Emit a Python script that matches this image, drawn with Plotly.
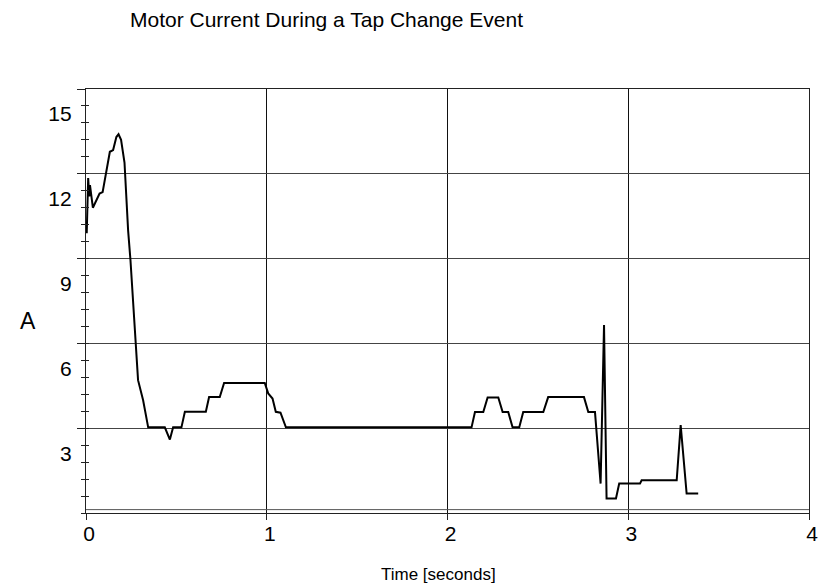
import plotly.graph_objects as go

# ---- data ----
time_s = [0.004, 0.012, 0.018, 0.022, 0.038, 0.060, 0.075, 0.092, 0.112, 0.132,
          0.150, 0.168, 0.180, 0.194, 0.213, 0.233, 0.246, 0.262, 0.276, 0.288,
          0.316, 0.344, 0.436, 0.464, 0.482, 0.528, 0.547, 0.663, 0.681, 0.740,
          0.764, 0.989, 1.008, 1.032, 1.050, 1.076, 1.106, 2.133, 2.152, 2.198,
          2.222, 2.281, 2.305, 2.336, 2.360, 2.397, 2.419, 2.530, 2.557, 2.755,
          2.779, 2.816, 2.847, 2.866, 2.880, 2.932, 2.950, 3.065, 3.074, 3.268,
          3.290, 3.323, 3.387]
current_a = [9.9, 11.85, 11.2, 11.6, 10.8, 11.1, 11.3, 11.35, 12.0, 12.78,
             12.84, 13.3, 13.4, 13.2, 12.4, 10.0, 8.95, 7.4, 5.94, 4.70,
             3.99, 3.03, 3.03, 2.6, 3.03, 3.03, 3.58, 3.58, 4.1, 4.1,
             4.6, 4.6, 4.23, 4.05, 3.58, 3.55, 3.03, 3.03, 3.57, 3.57,
             4.09, 4.09, 3.57, 3.57, 3.03, 3.03, 3.57, 3.57, 4.1, 4.1,
             3.57, 3.57, 1.04, 6.65, 0.51, 0.51, 1.04, 1.04, 1.16, 1.16,
             3.11, 0.69, 0.69]

x_ticks = [0, 1, 2, 3, 4]
y_ticks = [3, 6, 9, 12, 15]
y_tick_labels = ["3", "6", "9", "12", "15"]

title_text = "Motor Current During a Tap Change Event"
x_title = "Time [seconds]"
y_title = "A"

FONT = "Liberation Sans, Arial, Helvetica, sans-serif"

fig = go.Figure()
fig.add_trace(go.Scatter(x=time_s, y=current_a, mode="lines",
                         line=dict(color="black", width=2),
                         showlegend=False, hoverinfo="skip"))
fig.add_trace(go.Scatter(x=[None], y=[None], yaxis="y2", showlegend=False))

fig.update_layout(
    width=828, height=586,
    margin=dict(l=86, r=19, t=89, b=73, autoexpand=False),
    paper_bgcolor="white", plot_bgcolor="white",
    font=dict(family=FONT, color="black"),
    showlegend=False,
    xaxis=dict(
        range=[0, 4], tickvals=x_ticks, ticktext=[str(v) for v in x_ticks],
        showgrid=True, gridcolor="#111111", gridwidth=1.2,
        showline=True, linecolor="#222222", linewidth=1.2, mirror=True,
        ticks="outside", ticklen=6, tickcolor="#222222",
        tickfont=dict(size=21, family=FONT, color="black"),
        ticklabelshift=3, ticklabelstandoff=-4,
        zeroline=False, automargin=False,
    ),
    yaxis=dict(
        range=[0, 15], tickvals=y_ticks, ticktext=y_tick_labels,
        showgrid=True, gridcolor="#444444", gridwidth=1,
        showline=True, linecolor="#222222", linewidth=1.2, mirror=True,
        ticks="outside", ticklen=8, tickcolor="#222222",
        minor=dict(tick0=0, dtick=0.6, ticks="outside", ticklen=4,
                   tickcolor="#222222", showgrid=False),
        tickfont=dict(size=21, family=FONT, color="black"),
        ticklabelshift=25, ticklabelstandoff=1,
        zeroline=False, automargin=False,
    ),
    yaxis2=dict(
        range=[0, 15], overlaying="y", anchor="x", side="left",
        tick0=0, dtick=0.6, ticks="inside", ticklen=3, tickcolor="#222222",
        showticklabels=False, showgrid=False, showline=False, zeroline=False,
    ),
    shapes=[dict(type="line", xref="paper", yref="y", x0=0, x1=1, y0=0.12, y1=0.12,
                 line=dict(color="#555555", width=1))],
    annotations=[
        dict(text=title_text, xref="paper", yref="paper",
             x=(326.5 - 86) / 723, y=(512.8 - 20) / 423.5,
             xanchor="center", yanchor="middle", showarrow=False,
             font=dict(size=21, family=FONT, color="black")),
        dict(text=y_title, xref="paper", yref="paper",
             x=(28 - 86) / 723, y=(512.8 - 321) / 423.5,
             xanchor="center", yanchor="middle", showarrow=False,
             font=dict(size=23, family=FONT, color="black")),
        dict(text=x_title, xref="paper", yref="paper",
             x=(438 - 86) / 723, y=(512.8 - 574) / 423.5,
             xanchor="center", yanchor="middle", showarrow=False,
             font=dict(size=17, family=FONT, color="black")),
    ],
)

fig.write_html(
    "out.html",
    config={"displayModeBar": False},
    post_script="document.body.style.margin='0';document.body.style.overflow='hidden';",
)
